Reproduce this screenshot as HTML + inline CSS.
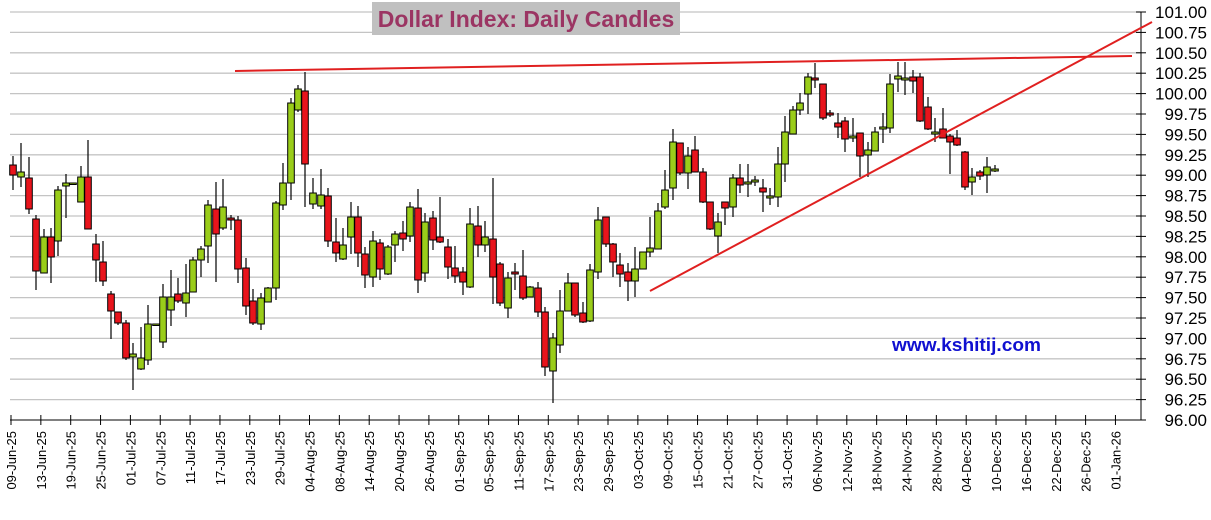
<!DOCTYPE html>
<html><head><meta charset="utf-8"><style>
html,body{margin:0;padding:0;background:#fff;}
svg{display:block;font-family:"Liberation Sans",Arial,sans-serif;}
</style></head><body>
<svg id="s" width="1211" height="520" viewBox="0 0 1211 520" xmlns="http://www.w3.org/2000/svg">
<g id="grid" stroke="#c4c4c4" stroke-width="1.3"></g>
<rect x="372" y="2" width="308" height="33" fill="#c0c0c0"/>
<text x="526" y="27" text-anchor="middle" font-size="23" font-weight="bold" fill="#9b3563">Dollar Index:  Daily Candles</text>
<g id="yax" font-size="17" fill="#000"></g>
<g id="xax" font-size="13" fill="#000">
</g>
<g id="candles"></g>
<line x1="235" y1="71" x2="1132" y2="56" stroke="#e02020" stroke-width="2"/>
<line x1="650" y1="291" x2="1152" y2="22" stroke="#e02020" stroke-width="2"/>
<text x="892" y="351" font-size="18.5" font-weight="bold" fill="#1010d0" textLength="149" lengthAdjust="spacingAndGlyphs">www.kshitij.com</text>
</svg>
<script>
var NS="http://www.w3.org/2000/svg";
function el(p,t,a,txt){var e=document.createElementNS(NS,t);for(var k in a)e.setAttribute(k,a[k]);if(txt)e.textContent=txt;p.appendChild(e);return e;}
var g=document.getElementById('grid'),ya=document.getElementById('yax'),xa=document.getElementById('xax');
for(var i=0;i<=20;i++){var y=12+i*20.4;var v=(101-i*0.25).toFixed(2);
 if(i<20)el(g,'line',{x1:10,x2:1141,y1:y,y2:y});
 el(ya,'line',{x1:1136,x2:1146,y1:y,y2:y,stroke:'#000'});
 el(ya,'text',{x:1207,y:y+6,'text-anchor':'end'},v);}
el(ya,'line',{x1:1141,x2:1141,y1:12,y2:420,stroke:'#000'});
el(xa,'line',{x1:10,x2:1141,y1:420,y2:420,stroke:'#000'});
var L="09-Jun-25,13-Jun-25,19-Jun-25,25-Jun-25,01-Jul-25,07-Jul-25,11-Jul-25,17-Jul-25,23-Jul-25,29-Jul-25,04-Aug-25,08-Aug-25,14-Aug-25,20-Aug-25,26-Aug-25,01-Sep-25,05-Sep-25,11-Sep-25,17-Sep-25,23-Sep-25,29-Sep-25,03-Oct-25,09-Oct-25,15-Oct-25,21-Oct-25,27-Oct-25,31-Oct-25,06-Nov-25,12-Nov-25,18-Nov-25,24-Nov-25,28-Nov-25,04-Dec-25,10-Dec-25,16-Dec-25,22-Dec-25,26-Dec-25,01-Jan-26".split(',');
for(var i=0;i<L.length;i++){var x=11+i*29.85;
 el(xa,'line',{x1:x,x2:x,y1:415,y2:425,stroke:'#000'});
 el(xa,'text',{x:0,y:0,transform:'translate('+(x+5)+',431) rotate(-90)','text-anchor':'end'},L[i]);}
var D=[
[14,165,175,156,190,'r'],[22,172,177,143,187,'g'],[30,178,209,157,214,'r'],[37,219,271,215,290,'r'],[45,237,273,229,273,'g'],[52,237,257,228,283,'r'],[59,190,241,186,256,'g'],[67,183,186,174,218,'g'],[74,183,184,183,184,'g'],[82,177,202,166,202,'g'],[89,177,229,140,229,'r'],
[97,244,260,234,282,'r'],[104,262,281,241,286,'r'],[112,294,311,291,339,'r'],[119,312,323,312,325,'r'],[127,323,358,320,360,'r'],[134,354,357,343,390,'g'],[142,358,369,327,370,'g'],[149,324,360,305,365,'g'],[157,324,325,324,325,'g'],[164,297,342,284,348,'g'],[172,297,310,270,326,'g'],[179,294,301,278,303,'r'],[187,293,303,264,317,'g'],[194,260,292,257,292,'g'],[202,249,260,246,277,'g'],[209,205,246,200,263,'g'],[217,209,234,182,282,'r'],[224,207,228,179,230,'g'],[232,218,220,215,230,'r'],[239,220,269,216,283,'r'],[247,268,306,258,315,'r'],[254,301,323,289,325,'r'],[262,298,324,293,330,'g'],[269,288,302,287,302,'g'],[277,203,288,201,300,'g'],[284,183,205,163,210,'g'],[292,103,183,98,200,'g'],[299,89,110,85,112,'g'],[306,91,164,72,207,'r'],
[314,193,204,178,209,'g'],[322,195,206,169,209,'g'],[329,196,241,188,247,'r'],[337,242,253,218,262,'r'],[344,245,259,228,260,'g'],[352,217,237,202,254,'g'],[359,217,253,206,267,'r'],[366,254,275,247,288,'r'],[374,241,277,231,287,'g'],[381,243,269,239,280,'r'],[389,247,274,245,275,'g'],[396,234,245,231,262,'g'],[404,233,239,221,251,'r'],[411,207,236,202,242,'g'],[419,208,280,189,293,'r'],[426,222,273,213,282,'g'],[434,218,240,211,250,'r'],[441,237,242,197,243,'r'],[449,247,267,239,279,'r'],[456,268,276,246,283,'r'],[464,272,282,267,295,'r'],[471,224,287,208,288,'g'],[479,226,245,206,257,'r'],[486,237,245,221,252,'g'],[494,239,277,178,304,'r'],[501,264,303,262,306,'r'],[509,278,308,272,318,'g'],[516,272,274,263,290,'r'],[524,276,298,250,300,'r'],[531,287,297,286,297,'g'],[539,288,312,282,317,'r'],[546,312,367,307,376,'r'],[554,338,371,333,403,'g'],[561,311,345,290,353,'g'],[569,283,311,273,311,'g'],[576,283,315,283,317,'r'],[584,313,322,302,323,'r'],[591,270,321,264,322,'g'],[599,220,272,207,279,'g'],[607,217,244,217,247,'r'],[614,244,262,243,277,'r'],[621,265,274,253,287,'r'],[629,272,281,263,301,'r'],[636,269,281,247,297,'g'],[644,252,269,252,269,'g'],[651,248,252,217,257,'g'],[659,211,249,203,249,'g'],[666,190,207,170,209,'g'],[674,142,188,129,200,'g'],[681,143,173,143,175,'r'],[689,156,173,147,189,'g'],[696,150,172,136,172,'r'],[704,172,202,168,203,'r'],[711,202,229,202,230,'r'],[719,222,236,213,253,'g'],[726,202,208,202,225,'r'],[734,178,207,174,217,'g'],[741,178,185,164,193,'r'],[749,182,184,164,197,'g'],[756,180,182,176,186,'g'],[764,188,192,179,212,'r'],[771,196,198,188,205,'g'],[779,164,197,147,207,'g'],[786,132,164,116,182,'g'],[794,110,134,106,134,'g'],[801,103,110,93,115,'g'],[809,77,94,73,114,'g'],[816,78,80,63,88,'r'],[824,84,118,84,120,'r'],[831,113,115,110,117,'r'],[839,123,127,113,138,'r'],[846,121,139,117,152,'r'],[854,136,138,118,142,'g'],[861,133,156,133,177,'r'],[869,150,155,142,177,'g'],[876,132,151,127,151,'g'],[884,127,129,113,143,'g'],[891,84,128,74,133,'g'],[899,76,79,62,92,'g'],[906,78,80,62,95,'g'],[914,77,81,70,93,'r'],[921,77,121,73,122,'r'],[929,107,129,97,130,'r'],[936,132,134,118,142,'g'],[944,129,138,108,138,'r'],[951,136,142,134,174,'r'],[958,138,145,130,146,'r'],[966,152,187,151,190,'r'],[973,177,182,168,195,'g'],[981,172,176,170,180,'r'],[988,167,175,157,193,'g'],[996,169,171,165,172,'g']];
var c=document.getElementById('candles');
D.forEach(function(d){var x=d[0]-1;
 el(c,'line',{x1:x,x2:x,y1:d[3],y2:d[4],stroke:'#000','stroke-width':1.2});
 var h=Math.max(d[2]-d[1],1.5);
 el(c,'rect',{x:x-3.3,y:d[1],width:6.6,height:h,fill:d[5]=='r'?'#e8141c':'#9acd1a',stroke:'#000','stroke-width':1});});
</script>
</body></html>
